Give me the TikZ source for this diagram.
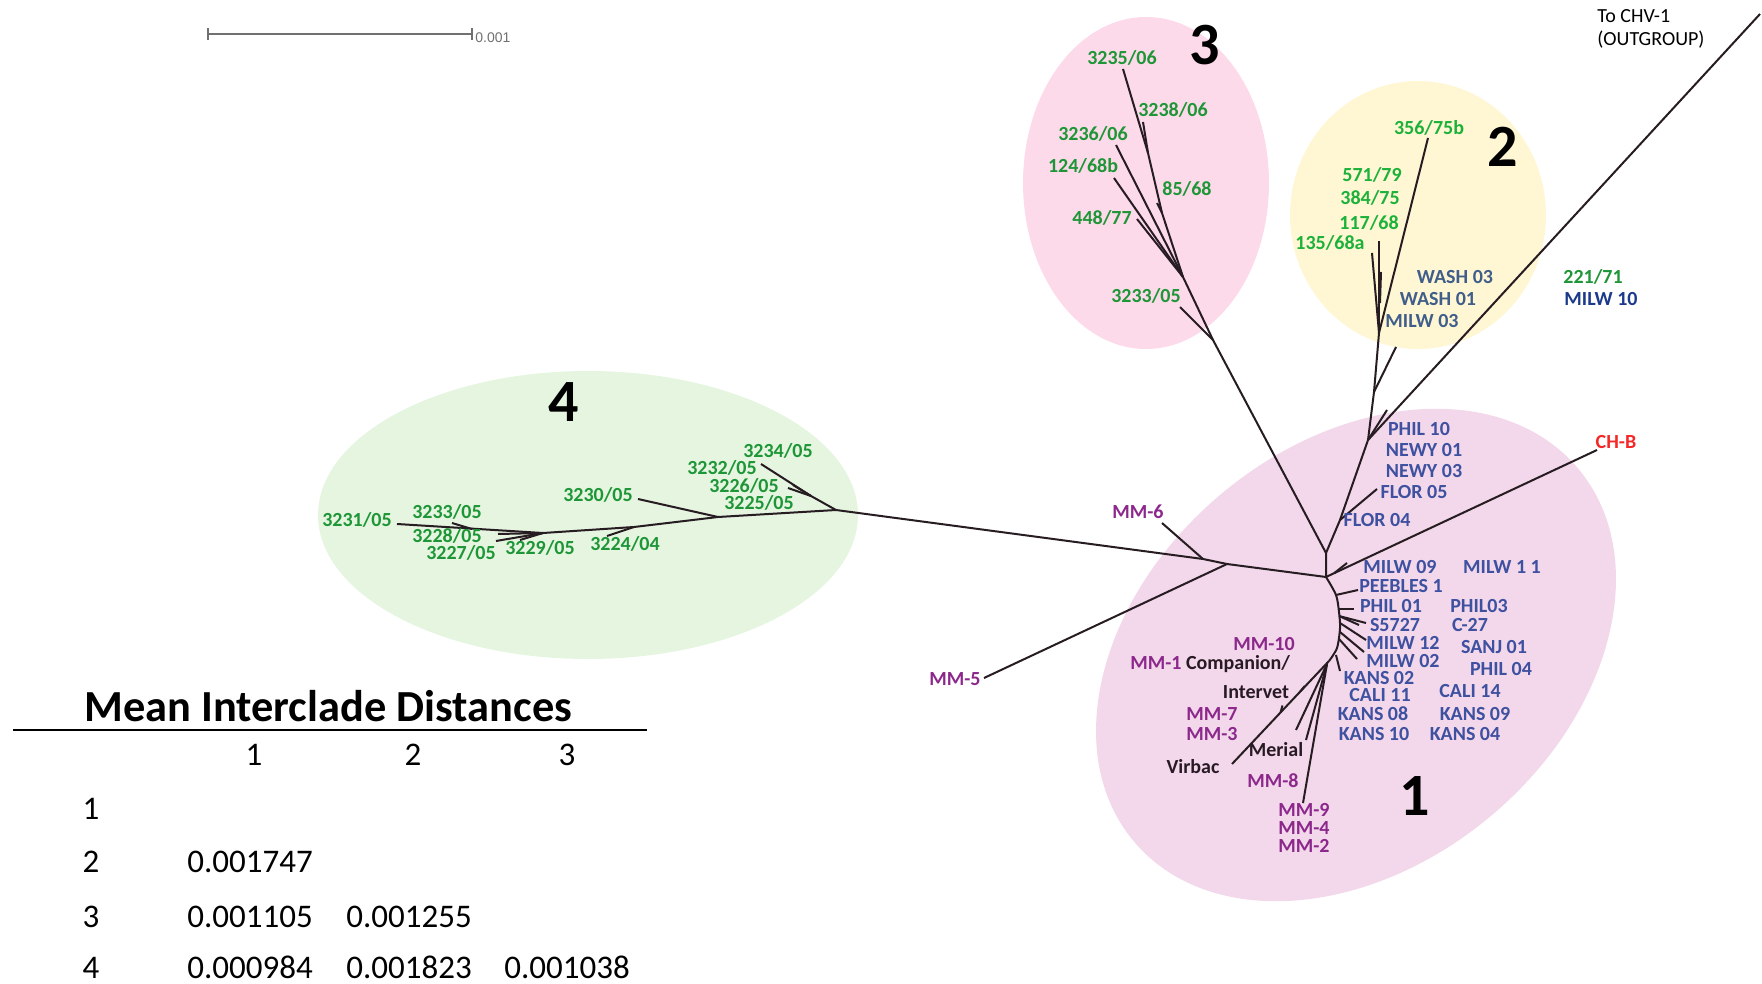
\documentclass[tikz,border=0pt]{standalone}
\usepackage{fontspec}
\setmainfont{Carlito}
\newfontfamily\barfont{Liberation Sans}
\usetikzlibrary{calc}
\definecolor{branch}{RGB}{38,28,34}
\definecolor{cladeA}{RGB}{242,216,234}
\definecolor{cladeB}{RGB}{255,246,212}
\definecolor{cladeC}{RGB}{253,218,234}
\definecolor{cladeD}{RGB}{229,245,224}
\definecolor{leafgreen}{RGB}{30,150,55}
\definecolor{leaflime}{RGB}{28,178,58}
\definecolor{leafblue}{RGB}{62,80,160}
\definecolor{leafsteel}{RGB}{64,94,138}
\definecolor{leafnavy}{RGB}{28,58,140}
\definecolor{leafpurple}{RGB}{140,40,140}
\definecolor{leafred}{RGB}{245,40,40}
\definecolor{leafdark}{RGB}{40,26,36}
\definecolor{bargray}{RGB}{112,112,112}

\begin{document}
\begin{tikzpicture}[x=0.5pt,y=-0.5pt,
  edge/.style={draw=branch,line width=1pt},
  leaf/.style={inner sep=0pt,font=\bfseries\fontsize{10}{12}\selectfont,text height=6.5pt,text depth=0pt},
  grn/.style={leaf,text=leafgreen},
  lime/.style={leaf,text=leaflime},
  blu/.style={leaf,text=leafblue},
  stl/.style={leaf,text=leafsteel},
  pur/.style={leaf,text=leafpurple},
  drk/.style={leaf,text=leafdark},
  clade/.style={inner sep=0pt,font=\bfseries\fontsize{30}{32}\selectfont,text height=19pt,text depth=0pt},
  cell/.style={inner sep=0pt,font=\fontsize{16.5}{18}\selectfont,text height=10.5pt,text depth=0pt}]
  \useasboundingbox (0,0) rectangle (1762,984);

  \fill[cladeC] (1146,183) ellipse [x radius=123, y radius=166];
  \fill[cladeB] (1418,215) ellipse [x radius=128, y radius=134];
  \fill[cladeD] (588,515) ellipse [x radius=270, y radius=144];
  \fill[cladeA, rotate around={40:(1356,655)}] (1356,655) ellipse [x radius=290, y radius=210];

  \coordinate (s0) at (208,34);
  \coordinate (s1) at (472,34);
  \draw[bargray, line width=1pt] (s0) -- (s1);
  \draw[bargray, line width=1pt] (s0) ++(0,-6) -- ++(0,12);
  \draw[bargray, line width=1pt] (s1) ++(0,-6) -- ++(0,12);
  \node[inner sep=0pt, anchor=west, text=bargray, font=\barfont\fontsize{7}{8}\selectfont] (barlab) at (475,38) {0.001};

  \coordinate (root) at (1326,577);
  \coordinate (up) at (1326,553);
  \coordinate (j6) at (1203,559);
  \coordinate (j5) at (1227,564);
  \coordinate (t6) at (1162,523);
  \coordinate (t5) at (984,678);
  \coordinate (c4) at (836,510);
  \coordinate (c4a) at (718,517);
  \coordinate (c4b) at (634,527);
  \coordinate (c4c) at (543,533);
  \coordinate (c4d) at (811,496);
  \coordinate (j3233) at (472,529);
  \coordinate (t3231) at (397,524);
  \coordinate (t3233) at (452,523);
  \coordinate (t3228) at (498,534);
  \coordinate (t3227) at (496,541);
  \coordinate (t3229) at (520,540);
  \coordinate (t3224) at (607,536);
  \coordinate (t3230) at (638,499);
  \coordinate (t3234) at (761,464);
  \coordinate (t3226) at (788,488);
  \coordinate (t3232) at (793,485);

  \draw[edge] (root) -- (j5) -- (j6) -- (c4);
  \draw[edge] (j6) -- (t6);
  \draw[edge] (j5) -- (t5);
  \draw[edge] (c4) -- (c4a) -- (c4b) -- (c4c) -- (t3231);
  \draw[edge] (j3233) -- (t3233);
  \draw[edge] (c4c) -- (t3228);
  \draw[edge] (c4c) -- (t3227);
  \draw[edge] (c4c) -- (t3229);
  \draw[edge] (c4b) -- (t3224);
  \draw[edge] (c4a) -- (t3230);
  \draw[edge] (c4) -- (c4d) -- (t3234);
  \draw[edge] (c4d) -- (t3226);
  \draw[edge] (c4d) -- (t3232);

  \coordinate (c3) at (1213,340);
  \coordinate (c3a) at (1183,277);
  \coordinate (c3b) at (1148,153);
  \coordinate (c3c) at (1162,213);
  \coordinate (t3235) at (1123,69);
  \coordinate (t3238) at (1143,122);
  \coordinate (t85) at (1157,203);
  \coordinate (t3236) at (1116,145);
  \coordinate (t124) at (1114,178);
  \coordinate (t448) at (1137,219);
  \coordinate (t3233b) at (1180,307);

  \draw[edge] (root) -- (up) -- (c3) -- (c3a) -- (c3c) -- (c3b) -- (t3235);
  \draw[edge] (c3b) -- (t3238);
  \draw[edge] (c3c) -- (t85);
  \draw[edge] (c3a) -- (t3236);
  \draw[edge] (c3a) -- (t124);
  \draw[edge] (c3a) -- (t448);
  \draw[edge] (c3) -- (t3233b);

  \coordinate (f4) at (1340,520);
  \coordinate (tf5) at (1377,489);
  \coordinate (p10) at (1368,440);
  \coordinate (tp10) at (1387,410);
  \coordinate (tout) at (1760,14);
  \coordinate (w3) at (1374,392);
  \coordinate (tw3) at (1396,347);
  \coordinate (c2) at (1379,333);
  \coordinate (t356) at (1428,138);
  \coordinate (t117) at (1379,241);
  \coordinate (t135) at (1372,253);
  \coordinate (s2) at (1380,303);
  \coordinate (ts2) at (1381,272);

  \draw[edge] (up) -- (f4) -- (p10) -- (w3) -- (c2);
  \draw[edge] (f4) -- (tf5);
  \draw[edge] (p10) -- (tp10);
  \draw[edge] (p10) -- (tout);
  \draw[edge] (w3) -- (tw3);
  \draw[edge] (c2) -- (t356);
  \draw[edge] (c2) -- (t117);
  \draw[edge] (c2) -- (t135);
  \draw[edge] (s2) -- (ts2);

  \coordinate (tchb) at (1597,450);
  \coordinate (m9) at ($(root)!0.03!(tchb)$);
  \coordinate (tm9) at (1347,563);
  \draw[edge] (root) -- (tchb);
  \draw[edge] (m9) -- (tm9);

  \coordinate (a1) at (1336,595);
  \coordinate (a2) at (1339,612);
  \coordinate (a3) at (1340,628);
  \coordinate (a4) at (1337,648);
  \coordinate (a5) at (1329,661);
  \draw[edge] plot[smooth] coordinates {(root) (a1) (a2) (a3) (a4) (a5)};
  \coordinate (b2) at (1339,609);
  \coordinate (b3) at (1339,616);
  \coordinate (b4) at (1340,623);
  \coordinate (b5) at (1340,632);
  \coordinate (b6) at (1339,639);
  \coordinate (b7) at (1336,655);
  \coordinate (tpb) at (1358,590);
  \coordinate (tp1) at (1354,609);
  \coordinate (ts1) at (1366,623);
  \coordinate (ts5) at (1359,625);
  \coordinate (tm12) at (1366,640);
  \coordinate (tm2a) at (1364,652);
  \coordinate (tm2b) at (1357,659);
  \coordinate (tk2) at (1340,671);
  \draw[edge] (a1) -- (tpb);
  \draw[edge] (b2) -- (tp1);
  \draw[edge] (b3) -- (ts1);
  \draw[edge] (b3) -- (ts5);
  \draw[edge] (b4) -- (tm12);
  \draw[edge] (b5) -- (tm2a);
  \draw[edge] (b6) -- (tm2b);
  \draw[edge] (b7) -- (tk2);

  \coordinate (mmj) at (1327,664);
  \coordinate (tvir) at (1232,764);
  \coordinate (tmer) at (1296,730);
  \coordinate (tmm9) at (1303,803);
  \coordinate (tmmx) at (1306,740);
  \coordinate (v1) at ($(a5)!0.3!(tvir)$);
  \coordinate (v2) at ($(a5)!0.5!(tvir)$);
  \draw[edge] (a5) -- (tvir);
  \draw[edge] (mmj) -- (tmer);
  \draw[edge] (mmj) -- (tmm9);
  \draw[edge] (mmj) -- (tmmx);
  \draw[edge] (v1) -- ++(5,-6);
  \draw[edge] (v2) -- ++(2,-7);

  \node[grn] (l3235) at (1122,58) {3235/06};
  \node[grn] (l3238) at (1173,110) {3238/06};
  \node[grn] (l3236) at (1093,134) {3236/06};
  \node[grn] (l124) at (1083,166) {124/68b};
  \node[grn] (l85) at (1187,189) {85/68};
  \node[grn] (l448) at (1102,218) {448/77};
  \node[grn] (l3233b) at (1146,296) {3233/05};

  \node[lime] (l356) at (1429,128) {356/75b};
  \node[lime] (l571) at (1372,175) {571/79};
  \node[lime] (l384) at (1370,198) {384/75};
  \node[lime] (l117) at (1369,223) {117/68};
  \node[lime] (l135) at (1330,243) {135/68a};
  \node[stl] (lwash3) at (1455,277) {WASH 03};
  \node[stl] (lwash1) at (1438,299) {WASH 01};
  \node[stl] (lmilw3) at (1422,321) {MILW 03};
  \node[grn] (l221) at (1593,277) {221/71};
  \node[leaf, text=leafnavy] (lmilw10) at (1601,299) {MILW 10};
  \node[inner sep=0pt, anchor=west, font=\fontsize{10}{12}\selectfont, text height=6.5pt, text depth=0pt] (lout1) at (1597,16) {To CHV-1};
  \node[inner sep=0pt, anchor=west, font=\fontsize{10}{12}\selectfont, text height=6.5pt, text depth=0pt] (lout2) at (1597,39) {(OUTGROUP)};

  \node[grn] (l3234) at (778,451) {3234/05};
  \node[grn] (l3232) at (722,468) {3232/05};
  \node[grn] (l3226) at (744,486) {3226/05};
  \node[grn] (l3225) at (759,503) {3225/05};
  \node[grn] (l3230) at (598,495) {3230/05};
  \node[grn] (l3233) at (447,512) {3233/05};
  \node[grn] (l3231) at (357,520) {3231/05};
  \node[grn] (l3228) at (447,536) {3228/05};
  \node[grn] (l3227) at (461,553) {3227/05};
  \node[grn] (l3229) at (540,548) {3229/05};
  \node[grn] (l3224) at (625,544) {3224/04};

  \node[pur] (lmm6) at (1138,512) {MM-6};
  \node[pur] (lmm5) at (955,679) {MM-5};

  \node[blu] (lphil10) at (1419,429) {PHIL 10};
  \node[blu] (lnewy1) at (1424,450) {NEWY 01};
  \node[blu] (lnewy3) at (1424,471) {NEWY 03};
  \node[blu] (lflor5) at (1414,492) {FLOR 05};
  \node[blu] (lflor4) at (1377,520) {FLOR 04};
  \node[leaf, text=leafred] (lchb) at (1616,442) {CH-B};
  \node[blu] (lmilw9) at (1400,567) {MILW 09};
  \node[blu] (lmilw11) at (1502,567) {MILW 1 1};
  \node[blu] (lpeeb) at (1401,586) {PEEBLES 1};
  \node[blu] (lphil01) at (1391,606) {PHIL 01};
  \node[blu] (ls5727) at (1395,625) {S5727};
  \node[blu] (lmilw12) at (1403,643) {MILW 12};
  \node[blu] (lmilw02) at (1403,661) {MILW 02};
  \node[blu] (lkans02) at (1379,678) {KANS 02};
  \node[blu] (lcali11) at (1380,695) {CALI 11};
  \node[blu] (lkans08) at (1373,714) {KANS 08};
  \node[blu] (lkans10) at (1374,734) {KANS 10};
  \node[blu] (lphil03) at (1479,606) {PHIL03};
  \node[blu] (lc27) at (1470,625) {C-27};
  \node[blu] (lsanj) at (1494,647) {SANJ 01};
  \node[blu] (lphil04) at (1501,669) {PHIL 04};
  \node[blu] (lcali14) at (1470,691) {CALI 14};
  \node[blu] (lkans09) at (1475,714) {KANS 09};
  \node[blu] (lkans04) at (1465,734) {KANS 04};

  \node[pur] (lmm10) at (1264,644) {MM-10};
  \node[pur] (lmm1) at (1156,663) {MM-1};
  \node[drk] (lcomp) at (1238,663) {Companion/};
  \node[drk] (lint) at (1256,692) {Intervet};
  \node[pur] (lmm7) at (1212,714) {MM-7};
  \node[pur] (lmm3) at (1212,734) {MM-3};
  \node[drk] (lmer) at (1276,750) {Merial};
  \node[drk] (lvir) at (1193,767) {Virbac};
  \node[pur] (lmm8) at (1273,781) {MM-8};
  \node[pur] (lmm9) at (1304,810) {MM-9};
  \node[pur] (lmm4) at (1304,828) {MM-4};
  \node[pur] (lmm2) at (1304,846) {MM-2};

  \node[clade] (n1) at (1415,796) {1};
  \node[clade] (n2) at (1503,148) {2};
  \node[clade] (n3) at (1205,46) {3};
  \node[clade] (n4) at (564,402) {4};

  \node[inner sep=0pt, anchor=base west, font=\bfseries\fontsize{22.2}{24}\selectfont] (title) at (84,721) {Mean Interclade Distances};
  \coordinate (rl) at (13,730);
  \coordinate (rr) at (647,730);
  \draw[line width=1pt] (rl) -- (rr);
  \node[cell] (h1) at (254,755) {1};
  \node[cell] (h2) at (413,755) {2};
  \node[cell] (h3) at (567,755) {3};
  \node[cell] (r1) at (91,809) {1};
  \node[cell] (r2) at (91,862) {2};
  \node[cell] (r3) at (91,917) {3};
  \node[cell] (r4) at (91,968) {4};
  \node[cell, anchor=west] (d21) at (187,862) {0.001747};
  \node[cell, anchor=west] (d31) at (187,917) {0.001105};
  \node[cell, anchor=west] (d32) at (346,917) {0.001255};
  \node[cell, anchor=west] (d41) at (187,968) {0.000984};
  \node[cell, anchor=west] (d42) at (346,968) {0.001823};
  \node[cell, anchor=west] (d43) at (504,968) {0.001038};
\end{tikzpicture}
\end{document}
